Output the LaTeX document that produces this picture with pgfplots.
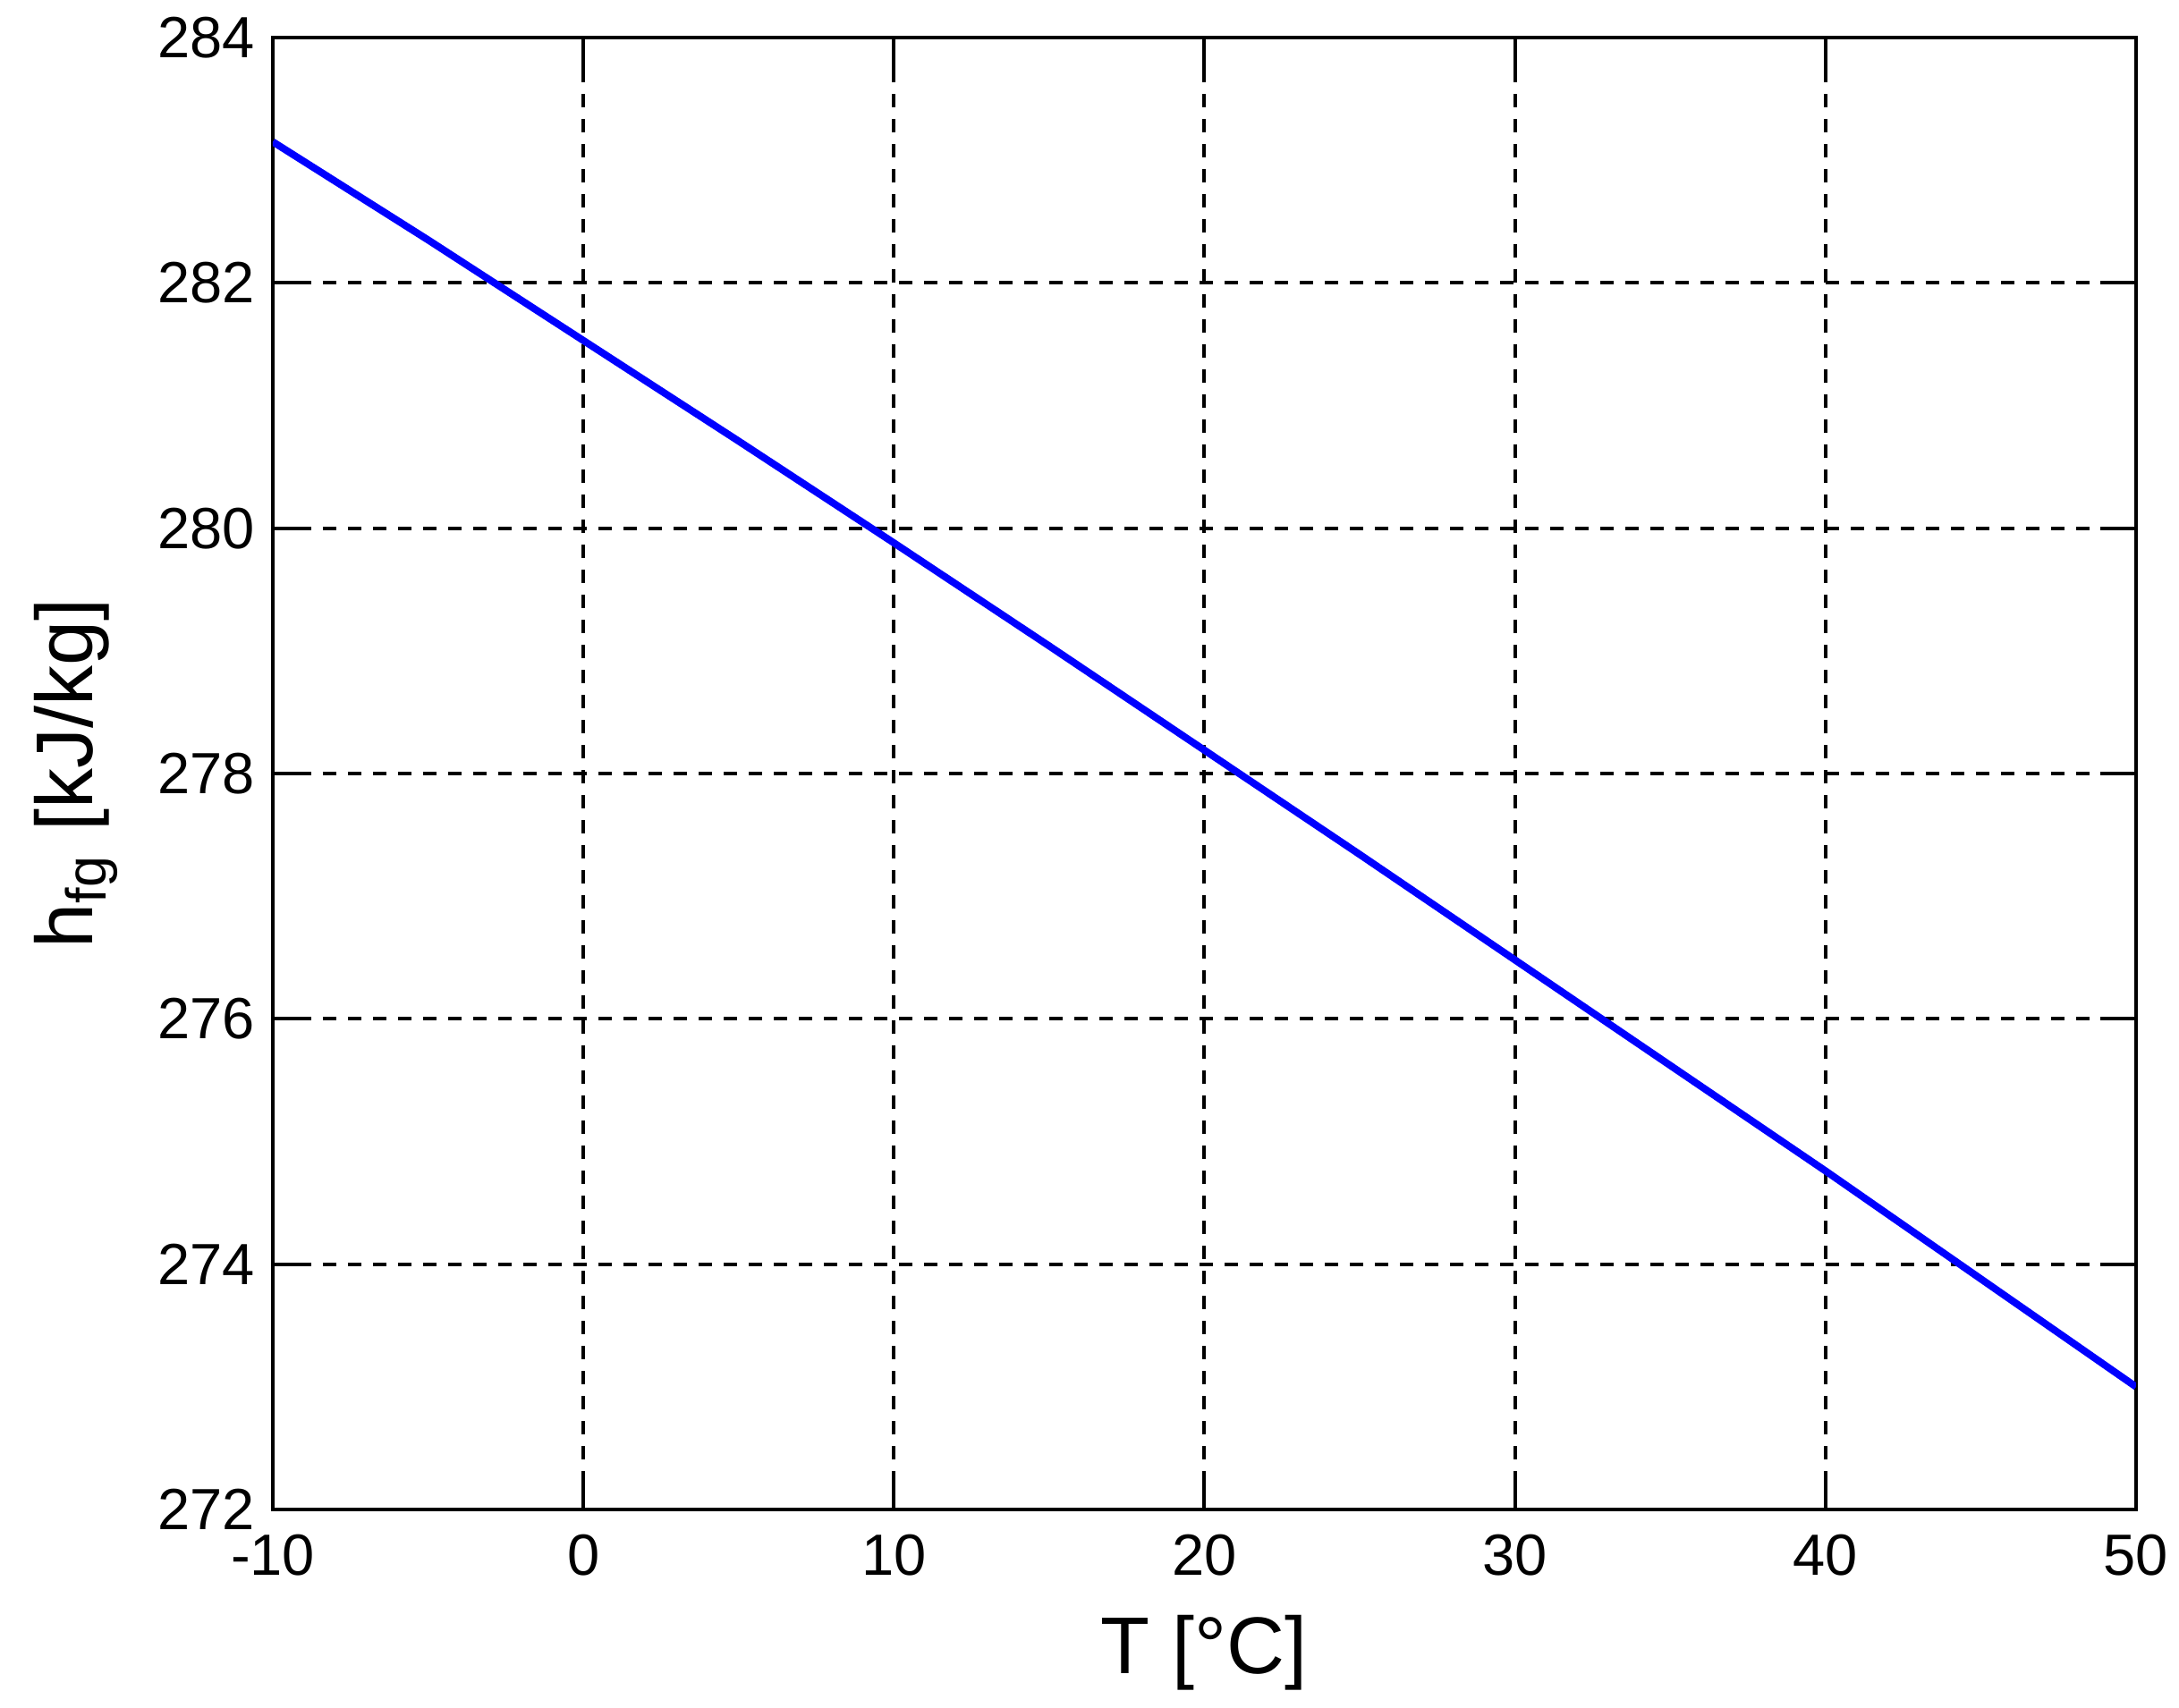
\documentclass[border=0pt]{standalone}
\usepackage{fontspec}
\setmainfont{Liberation Sans}
\usepackage{pgfplots}
\pgfplotsset{compat=1.18}
\begin{document}
\begin{tikzpicture}
\useasboundingbox (-61pt,-44.4pt) rectangle (426.2pt,337.6pt);
\begin{axis}[
  at={(0,0)}, anchor=south west,
  scale only axis,
  width=416.6pt, height=329.2pt,
  xmin=-10, xmax=50, ymin=272, ymax=284,
  xtick={-10,0,...,50}, ytick={272,274,...,284},
  /pgf/number format/assume math mode=true,
  /pgf/number format/1000 sep={},
  tick label style={font=\fontsize{13}{13}\selectfont},
  label style={font=\fontsize{18}{18}\selectfont},
  xlabel={T [°C]},
  ylabel={h$_{\mathrm{fg}}$ [kJ/kg]},
  xlabel style={yshift=-2pt},
  ylabel style={yshift=2pt},
  tick align=inside,
  major tick length=8pt,
  tick style={black, line width=0.8pt},
  axis line style={black, line width=0.8pt},
  grid=major,
  major grid style={black, line width=0.8pt, dash pattern=on 3pt off 2.6pt},
  xticklabel style={yshift=-2pt},
  yticklabel style={xshift=-0.5pt},
]
\addplot[blue, line width=1.6pt] coordinates {
(-10,283.15) (-5,282.35) (0,281.53) (5,280.71) (10,279.88) (15,279.04) (20,278.19) (25,277.34) (30,276.48) (35,275.62) (40,274.76) (45,273.88) (50,273.00)
};
\end{axis}
\end{tikzpicture}
\end{document}
